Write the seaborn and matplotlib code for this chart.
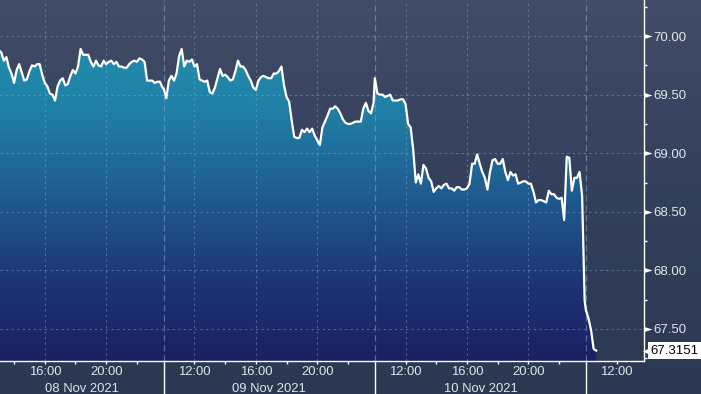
import numpy as np
import pandas as pd
import matplotlib
matplotlib.use("Agg")
import matplotlib.pyplot as plt
import matplotlib.transforms as mtrans
from matplotlib.colors import LinearSegmentedColormap
from matplotlib.ticker import FixedLocator, MultipleLocator, NullFormatter
import seaborn as sns

# ---------------- data ----------------
session_starts = ["2021-11-08 13:00", "2021-11-09 10:00", "2021-11-10 10:00", "2021-11-11 10:00"]

prices_08 = [69.88, 69.86, 69.79, 69.82, 69.73, 69.68, 69.60, 69.71, 69.76, 69.69, 69.62,
             69.63, 69.70, 69.75, 69.74, 69.76, 69.76, 69.67, 69.60, 69.57, 69.51,
             69.50, 69.45, 69.57, 69.62, 69.64, 69.58, 69.59, 69.66, 69.71, 69.68,
             69.74, 69.89, 69.84, 69.84, 69.84, 69.78, 69.74, 69.79, 69.75, 69.74,
             69.79, 69.76, 69.78, 69.79, 69.76, 69.78, 69.74, 69.74, 69.73, 69.73,
             69.76, 69.78, 69.79, 69.78, 69.81, 69.80, 69.78, 69.62, 69.62, 69.62,
             69.60, 69.61, 69.61, 69.56]

prices_09 = [69.55, 69.47, 69.62, 69.66, 69.62, 69.68, 69.83, 69.89, 69.74, 69.79,
             69.78, 69.80, 69.74, 69.76, 69.63, 69.62, 69.61, 69.62, 69.52, 69.51,
             69.56, 69.64, 69.72, 69.66, 69.67, 69.65, 69.62, 69.63, 69.70, 69.79,
             69.74, 69.74, 69.71, 69.66, 69.62, 69.56, 69.54, 69.62, 69.65, 69.66,
             69.65, 69.64, 69.64, 69.68, 69.68, 69.70, 69.74, 69.58, 69.48, 69.44,
             69.28, 69.14, 69.13, 69.13, 69.20, 69.18, 69.21, 69.18, 69.21, 69.15,
             69.11, 69.07, 69.22, 69.27, 69.32, 69.38, 69.38, 69.40, 69.38, 69.34,
             69.29, 69.26, 69.25, 69.25, 69.26, 69.27, 69.27, 69.27, 69.38, 69.43,
             69.36, 69.34, 69.43]

prices_10 = [69.64, 69.51, 69.50, 69.50, 69.48, 69.49, 69.50, 69.45, 69.45, 69.45,
             69.46, 69.46, 69.42, 69.25, 69.22, 69.03, 68.75, 68.82, 68.74, 68.90,
             68.87, 68.79, 68.76, 68.67, 68.70, 68.72, 68.70, 68.73, 68.74, 68.70,
             68.70, 68.68, 68.71, 68.71, 68.69, 68.69, 68.70, 68.74, 68.91, 68.91,
             68.99, 68.91, 68.84, 68.79, 68.69, 68.84, 68.94, 68.95, 68.91, 68.91,
             68.95, 68.84, 68.77, 68.84, 68.81, 68.82, 68.74, 68.75, 68.76, 68.76,
             68.74, 68.74, 68.67, 68.58, 68.60, 68.60, 68.59, 68.58, 68.68, 68.65,
             68.65, 68.62, 68.61, 68.62, 68.43, 68.97, 68.96, 68.68, 68.79, 68.79,
             68.84, 68.64, 67.74]

prices_11 = [67.66, 67.59, 67.49, 67.33, 67.3151]

y_ticks = [67.5, 68.0, 68.5, 69.0, 69.5, 70.0]
major_x = ["2021-11-08 16:00", "2021-11-08 20:00",
           "2021-11-09 12:00", "2021-11-09 16:00", "2021-11-09 20:00",
           "2021-11-10 12:00", "2021-11-10 16:00", "2021-11-10 20:00",
           "2021-11-11 12:00"]
minor_x = ["2021-11-08 14:00", "2021-11-08 18:00", "2021-11-08 22:00",
           "2021-11-09 14:00", "2021-11-09 18:00", "2021-11-09 22:00",
           "2021-11-10 14:00", "2021-11-10 18:00", "2021-11-10 22:00"]
day_labels = ["08 Nov 2021", "09 Nov 2021", "10 Nov 2021"]
view_start = "2021-11-08 13:05"
view_end = "2021-11-11 13:45"
y_min, y_max = 67.2265, 70.3077

# ---------------- compressed trading-time axis ----------------
OPEN_H = 10.0
SESSION_H = 13.75
first_day = pd.Timestamp("2021-11-08")


def to_pos(ts):
    ts = pd.Timestamp(ts)
    d = (ts.normalize() - first_day).days
    return d * SESSION_H + ts.hour + ts.minute / 60.0 - OPEN_H


frames = []
for start, vals in zip(session_starts, [prices_08, prices_09, prices_10, prices_11]):
    t = pd.date_range(start, periods=len(vals), freq="10min")
    frames.append(pd.DataFrame({"time": t, "price": vals}))
df = pd.concat(frames, ignore_index=True)
df["pos"] = df["time"].map(to_pos)

x_min, x_max = to_pos(view_start), to_pos(view_end)

# ---------------- figure ----------------
W, H = 701, 394
fig = plt.figure(figsize=(W / 100, H / 100), dpi=100)
fig.patch.set_facecolor("#2d3953")

bg = fig.add_axes([0, 0, 1, 1], zorder=-10)
bg_cmap = LinearSegmentedColormap.from_list("bg", ["#2c3852", "#33405b", "#414c67"])
bg.imshow(np.linspace(0, 1, 256)[:, None], cmap=bg_cmap, aspect="auto",
          origin="lower", extent=[0, 1, 0, 1])
bg.set_axis_off()

ax_bottom_px, ax_right_px = 361, 643.5
ax = fig.add_axes([0, 1 - ax_bottom_px / H, ax_right_px / W, ax_bottom_px / H])
ax.set_facecolor("none")

grid_col = "#8fb1d2"

# gradient fill under the line
fill_cmap = LinearSegmentedColormap.from_list(
    "fill", [(0.0, "#1b2061"), (0.2, "#1d3273"), (0.45, "#1f5a8f"),
             (0.7, "#2080a6"), (1.0, "#2398b3")])
poly = ax.fill_between(df["pos"], df["price"], y_min, color="none", lw=0)
grad = ax.imshow(np.linspace(0, 1, 256)[:, None], cmap=fill_cmap, aspect="auto",
                 origin="lower", extent=[x_min, x_max, y_min, y_max], zorder=1)
grad.set_clip_path(poly.get_paths()[0], ax.transData)

# price line
sns.lineplot(data=df, x="pos", y="price", color="white", linewidth=1.6,
             ax=ax, zorder=5, legend=False)
ax.set_xlabel("")
ax.set_ylabel("")

ax.set_xlim(x_min, x_max)
ax.set_ylim(y_min, y_max)

# horizontal grid
for yv in y_ticks:
    ax.axhline(yv, color=grid_col, lw=0.8, alpha=0.45, ls=(0, (2, 3)), zorder=3)

# vertical grid at labelled times within full sessions
major_pos = [to_pos(t) for t in major_x]
for xv in major_pos:
    if xv < 3 * SESSION_H:
        ax.axvline(xv, color=grid_col, lw=0.8, alpha=0.45, ls=(0, (2, 3)), zorder=3)

# session separators
blend = mtrans.blended_transform_factory(ax.transData, ax.transAxes)
for d in range(1, len(session_starts)):
    xs = d * SESSION_H
    ax.axvline(xs, color=grid_col, lw=0.9, alpha=0.5, ls=(0, (5, 3)), zorder=3)
    ax.plot([xs, xs], [0, -0.1], transform=blend, clip_on=False,
            color="white", lw=1.0, zorder=6)

# spines
for s in ["top", "left"]:
    ax.spines[s].set_visible(False)
for s in ["bottom", "right"]:
    ax.spines[s].set_color("white")
    ax.spines[s].set_linewidth(1.0)

label_col = "#e1e5eb"
font = "Liberation Sans"
fs = 9.4

# x ticks
ax.xaxis.set_major_locator(FixedLocator(major_pos))
ax.xaxis.set_minor_locator(FixedLocator([to_pos(t) for t in minor_x]))
ax.set_xticklabels([pd.Timestamp(t).strftime("%H:%M") for t in major_x])
ax.tick_params(axis="x", which="both", direction="out", length=2.5, width=1,
               color="white", pad=1.0, labelsize=fs, labelcolor=label_col)
for lab in ax.get_xticklabels():
    lab.set_fontfamily(font)

# day labels centred under the visible part of each session
for d, txt in enumerate(day_labels):
    lo = max(d * SESSION_H, x_min)
    hi = min((d + 1) * SESSION_H, x_max)
    ax.text((lo + hi) / 2, -(391.5 - ax_bottom_px) / ax_bottom_px, txt,
            transform=blend, ha="center", va="baseline",
            fontsize=fs, color=label_col, family=font)

# y axis on the right
ax.yaxis.tick_right()
ax.yaxis.set_major_locator(FixedLocator(y_ticks))
ax.yaxis.set_minor_locator(MultipleLocator(0.25))
ax.yaxis.set_minor_formatter(NullFormatter())
ax.set_yticklabels([f"{v:.2f}" for v in y_ticks])
ax.tick_params(axis="y", which="major", length=0, pad=7, labelsize=9.5,
               labelcolor=label_col)
ax.tick_params(axis="y", which="minor", direction="out", length=2.2, width=1,
               color="white")
for lab in ax.get_yticklabels():
    lab.set_fontfamily(font)

# triangle markers for major y ticks
yblend = mtrans.blended_transform_factory(ax.transAxes, ax.transData)
tri = [(0, -0.5), (0, 0.5), (1.6, 0)]
ax.scatter([1.0] * len(y_ticks), y_ticks, marker=tri, s=11.5 ** 2, color="white",
           transform=yblend, clip_on=False, zorder=6, linewidths=0)

# last price tag
last = df["price"].iloc[-1]
arrow_tr = mtrans.offset_copy(yblend, fig=fig, x=3.5, y=0, units="dots")
ax.scatter([1.0], [last], marker="<", s=40, color="white", transform=arrow_tr,
           clip_on=False, zorder=7, linewidths=0)
ax.annotate(f"{last:.4f}", xy=(1.0, last), xycoords=yblend, xytext=(5.2, 0),
            textcoords="offset points", ha="left", va="center", fontsize=9.5,
            family=font, color="black", annotation_clip=False, zorder=8,
            bbox=dict(boxstyle="square,pad=0.18", fc="white", ec="none"))

fig.savefig("out.png", dpi=100, facecolor=fig.get_facecolor())
